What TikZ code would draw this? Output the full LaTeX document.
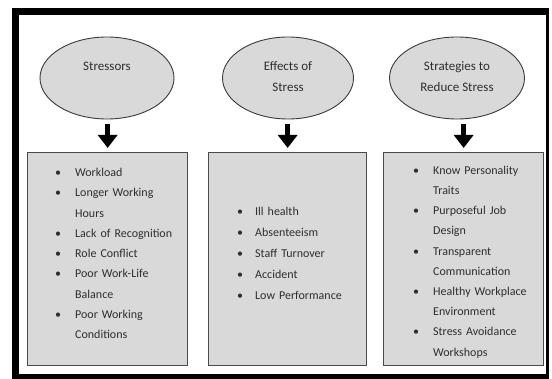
\documentclass[tikz,border=0pt]{standalone}
\usepackage{fontspec}
\setmainfont{Carlito}
\usetikzlibrary{shapes.geometric,arrows.meta}
\definecolor{boxfill}{HTML}{D9D9D9}
\definecolor{edgegray}{HTML}{3A3A3A}
\definecolor{boxedge}{HTML}{4A4A4A}
\definecolor{txtgray}{HTML}{2E2E2E}
\newlength\itind
\newcommand\bitem[1]{\par\hangindent=\itind\hangafter=1\noindent\rule{0pt}{10pt}\makebox[\itind][l]{\textbullet}#1}
\begin{document}
\begin{tikzpicture}[x=1pt,y=-1pt,
  ell/.style={ellipse, draw=edgegray, line width=0.9pt, fill=boxfill, inner sep=0pt},
  boxnode/.style={rectangle, draw=boxedge, line width=1.3pt, fill=boxfill, inner sep=0pt, anchor=north west},
  etext/.style={anchor=base, inner sep=0pt, text=txtgray, font=\fontsize{13}{16}\selectfont},
  listnode/.style={anchor=north west, inner sep=0pt, text=txtgray, text width=150pt},
  barrow/.style={draw=black, line width=5pt, -{Triangle[width=19pt,length=13pt]}, shorten <=5pt, shorten >=4pt}]
\useasboundingbox (0,0) rectangle (552,379);
% frame
\fill[black] (12,8) rectangle (549,379);
\fill[white] (19,15) rectangle (546,374);
% ellipses
\node[ell, minimum width=134pt, minimum height=82pt] (e1) at (107,78) {};
\node[ell, minimum width=131pt, minimum height=82pt] (e2) at (288,78) {};
\node[ell, minimum width=135pt, minimum height=82pt] (e3) at (457,78) {};
\node[etext] (t1) at (107,71) {Stressors};
\node[etext] (t2a) at (288,71) {Effects of};
\node[etext] (t2b) at (288,92) {Stress};
\node[etext] (t3a) at (457,71) {Strategies to};
\node[etext] (t3b) at (457,92) {Reduce Stress};
% boxes
\node[boxnode, minimum width=160pt, minimum height=213pt] (b1) at (27,152) {};
\node[boxnode, minimum width=158pt, minimum height=213pt] (b2) at (208,152) {};
\node[boxnode, minimum width=160pt, minimum height=213pt] (b3) at (383,152) {};
% arrows
\draw[barrow] (b1.north |- e1.south) -- (b1.north);
\draw[barrow] (b2.north |- e2.south) -- (b2.north);
\draw[barrow] (b3.north |- e3.south) -- (b3.north);
% lists
\node[listnode, font=\fontsize{12}{20.3}\selectfont] (l1) at (55,156) {\raggedright\setlength\itind{20pt}%
\bitem{Workload}%
\bitem{Longer Working\newline Hours}%
\bitem{Lack of Recognition}%
\bitem{Role Conflict}%
\bitem{Poor Work-Life\newline Balance}%
\bitem{Poor Working\newline Conditions}\par};
\node[listnode, font=\fontsize{12}{20.8}\selectfont] (l2) at (237,195) {\raggedright\setlength\itind{18pt}%
\bitem{Ill health}%
\bitem{Absenteeism}%
\bitem{Staff Turnover}%
\bitem{Accident}%
\bitem{Low Performance}\par};
\node[listnode, font=\fontsize{12}{20.2}\selectfont] (l3) at (413,154) {\raggedright\setlength\itind{20pt}%
\bitem{Know Personality\newline Traits}%
\bitem{Purposeful Job\newline Design}%
\bitem{Transparent\newline Communication}%
\bitem{Healthy Workplace\newline Environment}%
\bitem{Stress Avoidance\newline Workshops}\par};
\end{tikzpicture}
\end{document}
